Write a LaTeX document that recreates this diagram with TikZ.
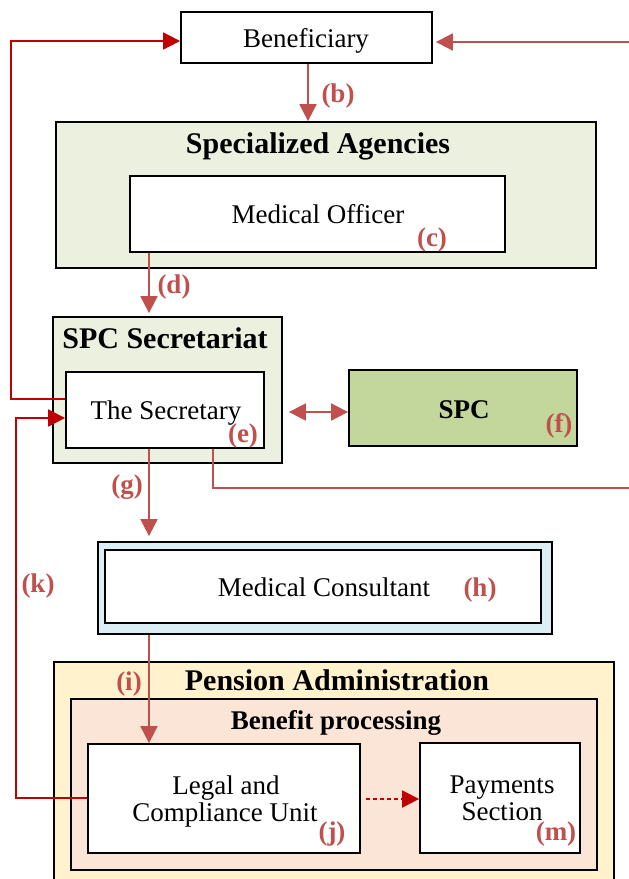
\documentclass[tikz,border=0pt]{standalone}
\usepackage{fontspec}
\setmainfont{Liberation Serif}
\usetikzlibrary{arrows.meta,fit}
\definecolor{lab}{HTML}{C0504D}
\definecolor{dred}{HTML}{C00000}
\definecolor{lgreen}{HTML}{EBF1DE}
\definecolor{mgreen}{HTML}{C3D69B}
\definecolor{lblue}{HTML}{DAEEF3}
\definecolor{lyel}{HTML}{FFF2CC}
\definecolor{lpeach}{HTML}{FBE5D6}
\begin{document}
\begin{tikzpicture}[x=1pt,y=-1pt,
 box/.style={draw=black,line width=1.8pt,inner sep=0pt},
 txt/.style={font=\fontsize{27}{29}\selectfont,anchor=base,inner sep=0pt},
 ttl/.style={font=\bfseries\fontsize{30}{32}\selectfont,anchor=base,inner sep=0pt},
 lbl/.style={font=\bfseries\fontsize{27}{29}\selectfont,text=lab,anchor=base,inner sep=0pt},
 tip/.tip={Triangle[length=17pt,width=17pt]},
 arr/.style={draw=lab,line width=1.8pt,-tip},
 darr/.style={draw=dred,line width=1.8pt,-tip},
]
\path[use as bounding box] (0,0) rectangle (629,879);
\clip (0,0) rectangle (629,879);

% containers
\node[box,fit={(181,12)(432,63)}] (ben) {};
\node[box,fill=lgreen,fit={(56,122)(596,268)}] (spa) {};
\node[box,fill=white,fit={(130,176)(505,252)}] (mo) {};
\node[box,fill=lgreen,fit={(53,317)(282,463)}] (secr) {};
\node[box,fill=white,fit={(66,372)(264,448)}] (sec) {};
\node[box,fill=mgreen,fit={(349,370)(577,446)}] (spc) {};
\node[box,fill=lblue,fit={(98,542)(552,634)}] (mco) {};
\node[box,fill=white,line width=2.2pt,fit={(105,550)(541,623)}] (mc) {};
\node[box,fill=lyel,fit={(54,662)(614,895)}] (pa) {};
\node[box,fill=lpeach,fit={(71,699)(597,870)}] (bp) {};
\node[box,fill=white,fit={(88,744)(360,853)}] (legal) {};
\node[box,fill=white,fit={(420,743)(580,853)}] (pay) {};

% texts
\node[txt] (tben) at (306,47) {Beneficiary};
\node[ttl] (tspa) at (318,153) {Specialized Agencies};
\node[txt] (tmo) at (318,223) {Medical Officer};
\node[ttl] (tsecr) at (165,348) {SPC Secretariat};
\node[txt] (tsec) at (166,419) {The Secretary};
\node[ttl,font=\bfseries\fontsize{27}{29}\selectfont] (tspc) at (464,418) {SPC};
\node[txt] (tmc) at (324,596) {Medical Consultant};
\node[ttl] (tpa) at (337,690) {Pension Administration};
\node[ttl,font=\bfseries\fontsize{27}{29}\selectfont] (tbp) at (336,729) {Benefit processing};
\node[txt] (tl1) at (226,794) {Legal and};
\node[txt] (tl2) at (225,821) {Compliance Unit};
\node[txt] (tp1) at (502,793) {Payments};
\node[txt] (tp2) at (502,820) {Section};

% labels
\node[lbl] (lb) at (338,102) {(b)};
\node[lbl] (lc) at (432,246) {(c)};
\node[lbl] (ld) at (174,293) {(d)};
\node[lbl] (le) at (243,442) {(e)};
\node[lbl] (lf) at (559,432) {(f)};
\node[lbl] (lg) at (127,493) {(g)};
\node[lbl] (lh) at (480,596) {(h)};
\node[lbl] (lk) at (38,592) {(k)};
\node[lbl] (li) at (129,690) {(i)};
\node[lbl] (lj) at (332,840) {(j)};
\node[lbl] (lm) at (556,840) {(m)};

% connectors
\coordinate (rin) at (629,42);
\coordinate (rout) at (629,488);
\draw[darr] (sec.west |- 0,399) -- (11,399) -- (11,41) -- (ben.west |- 0,41);
\draw[arr] (rin) -- ([xshift=3pt]ben.east |- rin);
\draw[arr] (ben.south -| 308,0) -- (spa.north -| 308,0);
\draw[arr,shorten >=3pt] (mo.south -| 149,0) -- (secr.north -| 149,0);
\draw[draw=lab,line width=1.8pt] (sec.south -| 213,0) -- (213,488) -- (rout);
\draw[arr,shorten >=5pt] (sec.south -| 149,0) -- (mco.north -| 149,0);
\draw[arr,tip-tip,shorten <=6pt] (secr.east |- 0,412) -- (spc.west |- 0,412);
\draw[arr] (mco.south -| 149,0) -- (legal.north -| 149,0);
\draw[darr,dash pattern=on 4pt off 3pt,shorten <=5pt] (legal.east |- 0,799) -- (pay.west |- 0,799);
\draw[darr] (legal.west |- 0,798) -- (16,798) -- (16,418) -- (sec.west |- 0,418);
\end{tikzpicture}
\end{document}
